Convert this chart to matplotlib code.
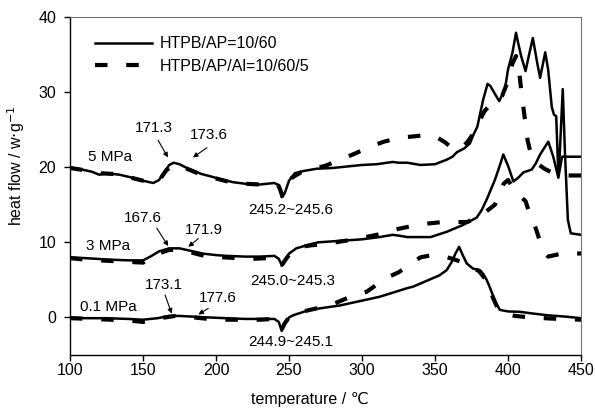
import matplotlib.pyplot as plt
import numpy as np

plt.rcParams['font.family'] = ['Liberation Sans', 'DejaVu Sans']

# ---- data ----
# 5 MPa
t5_ap = [100, 108, 115, 120, 125, 134, 145, 150, 157, 161, 165, 168, 171, 175, 180, 190, 196, 205, 212,
         220, 230, 240, 243, 245, 247, 250, 254, 260, 269, 280, 290, 300, 310, 321, 325, 331, 340, 350,
         358, 362, 365, 370, 374, 376, 379, 383, 386, 388, 390, 394, 398, 400, 403, 405.5, 407, 409,
         412, 414, 417, 420, 422, 425.5, 427.5, 430, 431.5, 433, 434.5, 435.5, 437.5, 439, 441, 443, 450]
h5_ap = [20.0, 19.7, 19.4, 19.0, 19.2, 19.0, 18.5, 18.2, 17.9, 18.3, 19.5, 20.3, 20.6, 20.4, 19.9, 19.1,
         18.8, 18.3, 18.0, 17.8, 17.7, 17.9, 17.6, 16.0, 16.5, 18.2, 19.2, 19.5, 19.8, 19.9, 20.1, 20.3,
         20.4, 20.7, 20.6, 20.6, 20.3, 20.4, 21.0, 21.4, 22.0, 22.5, 23.2, 24.2, 25.4, 29.0, 31.1, 30.8,
         30.1, 28.8, 30.5, 33.0, 35.2, 37.9, 36.5, 34.8, 32.8, 34.6, 37.2, 33.9, 31.9, 35.3, 33.0, 28.0,
         27.0, 26.8, 19.0, 22.0, 30.4, 22.0, 13.0, 11.2, 11.0]
t5_al = [100, 110, 120, 130, 140, 150, 157, 162, 166, 170, 174, 180, 190, 200, 210, 220, 230, 240, 243,
         245.5, 248, 252, 258, 265, 275, 285, 295, 305, 315, 325, 335, 345, 352, 357, 362, 367, 372,
         376, 380, 384, 388, 392, 396, 400, 403, 405.5, 407.5, 409.5, 411.5, 413.5, 416, 420, 425, 430,
         436, 443, 450]
h5_al = [19.9, 19.6, 19.2, 19.1, 18.7, 18.2, 18.0, 18.5, 19.6, 20.2, 20.3, 19.8, 19.0, 18.5, 18.0, 17.8,
         17.7, 17.8, 17.5, 16.2, 17.2, 18.6, 19.3, 19.7, 20.2, 21.0, 21.8, 22.7, 23.4, 23.9, 24.1, 24.3,
         23.9, 23.3, 22.5, 22.4, 23.3, 24.4, 26.0, 27.5, 28.3, 28.8, 29.5, 31.5, 33.8, 34.8, 33.0, 29.5,
         26.5, 23.5, 21.5, 20.5, 19.8, 19.3, 19.0, 18.9, 18.9]

# 3 MPa
t3_ap = [100, 110, 127, 140, 150, 155, 161, 168, 175, 182, 191, 200, 207, 220, 230, 240, 243, 245, 247,
         250, 255, 262, 270, 285, 300, 312, 321, 325, 331, 340, 347, 358, 369, 378.6, 382, 385.4, 391,
         394, 396.8, 400.2, 403.7, 407, 410.5, 416.3, 419, 422, 427.6, 431, 434.5, 437, 450]
h3_ap = [8.0, 7.9, 7.7, 7.6, 7.6, 8.1, 8.8, 9.2, 9.2, 8.9, 8.5, 8.3, 8.2, 8.1, 8.1, 8.2, 7.8, 7.0, 7.5,
         8.5, 9.2, 9.6, 10.0, 10.2, 10.4, 10.7, 11.0, 10.9, 10.7, 10.7, 10.7, 11.4, 12.3, 13.3, 14.3,
         15.7, 18.3, 20.0, 21.7, 20.1, 18.1, 18.6, 19.3, 19.7, 20.5, 21.7, 23.4, 21.4, 18.6, 21.4, 21.4]
t3_al = [100, 110, 120, 130, 140, 150, 155, 162, 168, 175, 182, 190, 196, 205, 215, 225, 235, 240, 243,
         245.2, 248, 252, 258, 265, 275, 285, 295, 305, 315, 325, 335, 345, 355, 365, 372, 378, 383,
         387, 391, 394, 397, 400, 403, 406, 409, 412, 414, 416.5, 419.5, 423, 427.5, 432, 440, 450]
h3_al = [7.9, 7.7, 7.6, 7.5, 7.4, 7.3, 7.8, 8.6, 9.0, 9.0, 8.7, 8.3, 8.0, 8.0, 7.9, 7.8, 7.9, 8.0, 7.6,
         7.0, 7.8, 8.8, 9.4, 9.6, 9.8, 10.1, 10.4, 10.8, 11.2, 11.8, 12.2, 12.5, 12.7, 12.7, 12.7, 13.2,
         13.8, 14.4, 15.0, 16.5, 17.8, 18.3, 17.4, 16.5, 16.0, 15.5, 14.3, 13.2, 11.6, 9.4, 8.1, 8.3,
         8.6, 8.5]

# 0.1 MPa
t01_ap = [100, 110, 125, 140, 150, 160, 168, 175, 185, 195, 207, 220, 230, 240, 243, 245, 247, 250, 253,
          264, 285, 312, 331, 335, 353, 358, 361.5, 364, 366.5, 369, 371.7, 376, 380.8, 383, 385.4, 388,
          390, 392, 394.5, 400, 408, 418, 426.5, 440, 450]
h01_ap = [0.0, -0.1, -0.1, -0.2, -0.3, -0.1, 0.2, 0.2, 0.1, 0.0, -0.1, -0.2, -0.2, -0.2, -0.6, -1.8,
          -0.9, 0.0, 0.3, 1.0, 1.6, 2.75, 3.9, 4.1, 5.6, 6.3, 7.4, 8.5, 9.4, 8.3, 7.2, 6.5, 6.3, 5.8,
          5.0, 3.8, 2.75, 1.8, 1.0, 0.8, 0.75, 0.5, 0.3, 0.1, -0.1]
t01_al = [100, 115, 128, 140, 150, 158, 165, 172, 180, 190, 200, 210, 220, 230, 240, 243, 245, 247, 250,
          255, 262, 271, 278, 295, 303, 317, 325, 340, 348, 355, 362, 368, 372, 376, 380, 385, 388, 390,
          393, 397, 405, 415, 425, 435, 450]
h01_al = [-0.1, -0.2, -0.3, -0.4, -0.6, -0.3, 0.0, 0.2, 0.1, -0.1, -0.3, -0.3, -0.3, -0.3, -0.2, -0.7,
          -1.6, -0.8, 0.0, 0.4, 0.9, 1.3, 1.6, 3.0, 3.4, 5.3, 6.0, 8.0, 8.3, 8.2, 7.8, 7.4, 7.1, 6.5,
          6.2, 5.0, 3.5, 2.5, 1.2, 0.5, 0.2, 0.0, -0.1, -0.2, -0.3]

labels = ['HTPB/AP=10/60', 'HTPB/AP/Al=10/60/5']
x_ticks = [100, 150, 200, 250, 300, 350, 400, 450]
y_ticks = [0, 10, 20, 30, 40]

# ---- plot ----
fig = plt.figure(figsize=(5.95, 4.11), dpi=100)
ax = fig.add_axes([70 / 595, 56 / 411, 511 / 595, 338 / 411])

dash_kw = dict(color='black', lw=3.0, linestyle=(0, (3, 4.5)), dash_capstyle='butt')
solid_kw = dict(color='black', lw=1.8)

ax.plot(t5_ap, h5_ap, label=labels[0], **solid_kw)
ax.plot(t5_al, h5_al, label=labels[1], **dash_kw)
ax.plot(t3_ap, h3_ap, **solid_kw)
ax.plot(t3_al, h3_al, **dash_kw)
ax.plot(t01_ap, h01_ap, **solid_kw)
ax.plot(t01_al, h01_al, **dash_kw)

ax.set_xlim(100, 450)
ax.set_ylim(-5, 40)
ax.set_xticks(x_ticks)
ax.set_yticks(y_ticks)
ax.tick_params(direction='out', length=4, width=1, labelsize=11.5)
ax.tick_params(axis='y', pad=6)
ax.tick_params(axis='x', pad=2)

for s in ['left', 'bottom']:
    ax.spines[s].set_linewidth(1.0)
for s in ['top', 'right']:
    ax.spines[s].set_linewidth(0.8)
    ax.spines[s].set_color('0.45')

ax.set_xlabel('temperature / ℃', fontsize=11.5)
ax.set_ylabel('heat flow / w$\\cdot$g$^{-1}$', fontsize=11.5)
ax.xaxis.set_label_coords(0.47, -0.11)
ax.yaxis.set_label_coords(-0.085, 0.56)

# text labels
tfs = 11
ax.text(127.4, 21.3, '5 MPa', ha='center', va='center', fontsize=tfs)
ax.text(126.4, 9.45, '3 MPa', ha='center', va='center', fontsize=tfs)
ax.text(126.4, 1.45, '0.1 MPa', ha='center', va='center', fontsize=tfs)
ax.text(157.2, 25.2, '171.3', ha='center', va='center', fontsize=tfs)
ax.text(194.9, 24.3, '173.6', ha='center', va='center', fontsize=tfs)
ax.text(149.7, 13.3, '167.6', ha='center', va='center', fontsize=tfs)
ax.text(191.4, 11.7, '171.9', ha='center', va='center', fontsize=tfs)
ax.text(164.0, 4.3, '173.1', ha='center', va='center', fontsize=tfs)
ax.text(201.0, 2.6, '177.6', ha='center', va='center', fontsize=tfs)
ax.text(251.0, 14.3, '245.2~245.6', ha='center', va='center', fontsize=tfs)
ax.text(252.4, 4.9, '245.0~245.3', ha='center', va='center', fontsize=tfs)
ax.text(251.0, -3.25, '244.9~245.1', ha='center', va='center', fontsize=tfs)

arrows = [((160.3, 23.6), (167.1, 21.3)),
          ((193.8, 22.6), (184.2, 21.3)),
          ((159.4, 11.9), (167.3, 9.5)),
          ((187.9, 10.5), (181.0, 9.4)),
          ((165.1, 3.0), (169.7, 0.5)),
          ((194.7, 1.2), (187.9, 0.4))]
for tail, tip in arrows:
    ax.annotate('', xy=tip, xytext=tail,
                arrowprops=dict(arrowstyle='-|>', color='black', lw=0.8, mutation_scale=7,
                                shrinkA=0, shrinkB=0))

ax.legend(loc='upper left', bbox_to_anchor=(0.02, 0.985), frameon=False, fontsize=11.5,
          handlelength=3.6, handletextpad=0.5, labelspacing=0.45)

fig.savefig('out.png', dpi=100)
